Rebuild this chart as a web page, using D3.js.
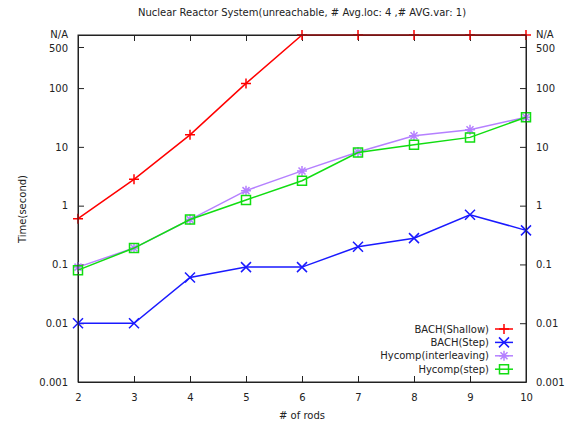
<!DOCTYPE html>
<html>
<head>
<meta charset="utf-8">
<script src="https://cdn.jsdelivr.net/npm/d3@7"></script>
<style>
  body { margin: 0; background: #fff; }
  text { font-family: "DejaVu Sans", sans-serif; fill: #222; }
</style>
</head>
<body>
<svg id="chart" width="575" height="425"></svg>
<script>
// x values (# of rods)
const rods = [2, 3, 4, 5, 6, 7, 8, 9, 10]
// N/A (unreachable within limit) is drawn at the top of the axis
const NA = 800
const bachShallow = [0.6, 2.8, 16, 120, NA, NA, NA, NA, NA]
const bachStep = [0.01, 0.01, 0.06, 0.09, 0.09, 0.2, 0.28, 0.7, 0.38]
const hycompInterleaving = [0.09, 0.19, 0.58, 1.8, 3.9, 8.2, 15.5, 19.5, 32]
const hycompStep = [0.08, 0.19, 0.58, 1.25, 2.65, 8, 10.9, 14.5, 32]
const yTickValues = [0.001, 0.01, 0.1, 1, 10, 100, 500, NA]
const yTickLabels = ["0.001", "0.01", "0.1", "1", "10", "100", "500", "N/A"]

const series = [
  {name: "BACH(Shallow)", values: bachShallow, color: "#ff0000", marker: "plus"},
  {name: "BACH(Step)", values: bachStep, color: "#1a1aff", marker: "cross"},
  {name: "Hycomp(interleaving)", values: hycompInterleaving, color: "#b580ff", marker: "star"},
  {name: "Hycomp(step)", values: hycompStep, color: "#11dd11", marker: "square"},
]

const margin = {left: 78, right: 49, top: 35, bottom: 43}
const width = 575, height = 425
const svg = d3.select("#chart")

const x = d3.scaleLinear().domain([2, 10]).range([margin.left, width - margin.right])
const y = d3.scaleLog().domain([0.001, NA]).range([height - margin.bottom, margin.top])

const tickLen = 6
const fmt = (d) => yTickLabels[yTickValues.indexOf(d)]

// axes, ticks drawn inward like gnuplot
svg.append("g")
  .attr("transform", `translate(0,${height - margin.bottom})`)
  .call(d3.axisBottom(x).tickValues(rods).tickFormat(d3.format("d")).tickSizeInner(-tickLen).tickSizeOuter(0).tickPadding(12))
svg.append("g")
  .attr("transform", `translate(0,${margin.top})`)
  .call(d3.axisTop(x).tickValues(rods).tickFormat("").tickSizeInner(-tickLen).tickSizeOuter(0))
svg.append("g")
  .attr("transform", `translate(${margin.left},0)`)
  .call(d3.axisLeft(y).tickValues(yTickValues).tickFormat(fmt).tickSizeInner(-tickLen).tickSizeOuter(0).tickPadding(10))
svg.append("g")
  .attr("transform", `translate(${width - margin.right},0)`)
  .call(d3.axisRight(y).tickValues(yTickValues).tickFormat(fmt).tickSizeInner(-tickLen).tickSizeOuter(0).tickPadding(10))

svg.selectAll(".tick text").style("font-size", "10px")
svg.selectAll(".domain, .tick line").attr("stroke", "#222")
// N/A tick has no tick mark
svg.selectAll(".tick").filter((d) => d === NA).select("line").remove()
svg.selectAll(".tick").filter((d) => d === NA || d === 500).select("text")
  .attr("dy", (d) => d === NA ? "0.2em" : "0.45em")

function markerPath(type, s){
  if(type === "plus") return `M${-s},0H${s}M0,${-s}V${s}`
  if(type === "cross") return `M${-s},${-s}L${s},${s}M${-s},${s}L${s},${-s}`
  if(type === "star") return `M${-s},0H${s}M0,${-s}V${s}M${-s*0.7},${-s*0.7}L${s*0.7},${s*0.7}M${-s*0.7},${s*0.7}L${s*0.7},${-s*0.7}`
  return `M${-s},${-s}H${s}V${s}H${-s}Z`
}

const line = d3.line().x((d) => x(d[0])).y((d) => y(d[1]))

series.forEach((s) => {
  const pts = rods.map((r, i) => [r, s.values[i]])
  svg.append("path")
    .attr("d", line(pts))
    .attr("fill", "none")
    .attr("stroke", s.color)
    .attr("stroke-width", 1.5)
  svg.selectAll(null)
    .data(pts)
    .join("path")
    .attr("transform", (d) => `translate(${x(d[0])},${y(d[1])})`)
    .attr("d", markerPath(s.marker, s.marker === "square" ? 4.5 : 5))
    .attr("fill", "none")
    .attr("stroke", s.color)
    .attr("stroke-width", 1.5)
})

// legend
const legend = svg.append("g")
series.forEach((s, i) => {
  const ly = 329 + i * 13.4
  legend.append("text")
    .attr("x", 489).attr("y", ly).attr("dy", "0.35em")
    .attr("text-anchor", "end")
    .style("font-size", "10px")
    .text(s.name)
  legend.append("line")
    .attr("x1", 495).attr("x2", 513).attr("y1", ly).attr("y2", ly)
    .attr("stroke", s.color).attr("stroke-width", 1.5)
  legend.append("path")
    .attr("transform", `translate(504,${ly})`)
    .attr("d", markerPath(s.marker, s.marker === "square" ? 4.5 : 5))
    .attr("fill", "none").attr("stroke", s.color).attr("stroke-width", 1.5)
})

// border box
svg.append("rect")
  .attr("x", margin.left).attr("y", margin.top)
  .attr("width", width - margin.left - margin.right)
  .attr("height", height - margin.top - margin.bottom)
  .attr("fill", "none").attr("stroke", "#222")

svg.append("text")
  .attr("x", (margin.left + width - margin.right) / 2).attr("y", 16)
  .attr("text-anchor", "middle").style("font-size", "10px")
  .text("Nuclear Reactor System(unreachable, # Avg.loc: 4 ,# AVG.var: 1)")

svg.append("text")
  .attr("x", (margin.left + width - margin.right) / 2).attr("y", 419)
  .attr("text-anchor", "middle").style("font-size", "10px")
  .text("# of rods")

svg.append("text")
  .attr("transform", "translate(26,209) rotate(-90)")
  .attr("text-anchor", "middle").style("font-size", "10px")
  .text("Time(second)")
</script>
</body>
</html>
